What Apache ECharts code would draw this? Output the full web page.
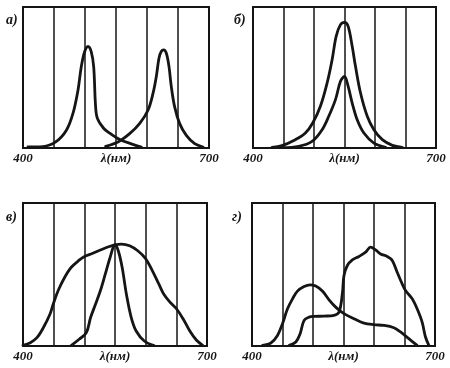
<!DOCTYPE html>
<html><head><meta charset="utf-8">
<script src="https://cdn.jsdelivr.net/npm/echarts@6/dist/echarts.min.js"></script>
<style>html,body{margin:0;padding:0;background:#fff}#c{width:450px;height:368px}</style>
</head><body><div id="c"></div>
<script>
// x tick labels
const tickLabels = {400: '400', 550: 'λ(нм)', 700: '700'};
const panelLabels = ['а)', 'б)', 'в)', 'г)'];

// panel а) two separate narrow peaks
const a1 = [[408,0.007],[432,0.01],[452.7,0.043],[470,0.126],[480.6,0.245],[488.7,0.41],[494,0.577],[499.5,0.684],[504.8,0.72],[510,0.684],[514,0.577],[517,0.3],[520,0.21],[530,0.14],[540,0.105],[556,0.06],[577,0.026],[591,0.007]];
const a2 = [[533.3,0.012],[553.2,0.043],[572,0.102],[588,0.173],[601.6,0.268],[609.7,0.387],[615,0.506],[619.3,0.637],[623,0.684],[626.9,0.696],[631.2,0.672],[635.5,0.577],[639.2,0.435],[644.6,0.292],[652.7,0.173],[663.4,0.09],[676.9,0.031],[690.3,0.007]];

// panel б) two peaks at the same wavelength
const b1 = [[431,0.005],[447.5,0.017],[469.4,0.059],[485.9,0.106],[497.9,0.177],[510.5,0.296],[521.5,0.461],[529.7,0.626],[536.3,0.792],[543.4,0.875],[550,0.891],[556,0.863],[562.6,0.721],[568,0.579],[576.3,0.39],[587.3,0.225],[598.2,0.13],[612,0.059],[628.4,0.019],[644.8,0.005]];
const b2 = [[447.5,0.003],[474.9,0.012],[496.8,0.047],[513.3,0.13],[524.2,0.225],[535.2,0.343],[543.4,0.473],[550,0.508],[556,0.437],[562.6,0.319],[570.8,0.2],[581.8,0.106],[598.2,0.035],[617.4,0.005]];

// panel в) broad and narrow curves
const c1 = [[400,0.005],[412,0.023],[422.7,0.058],[433.3,0.129],[443.9,0.222],[449.2,0.292],[457.2,0.386],[467.8,0.479],[478.4,0.549],[491.6,0.6],[499.6,0.624],[512.9,0.647],[526.1,0.671],[539.4,0.694],[550,0.708],[560.6,0.713],[573.9,0.701],[587.1,0.666],[599.3,0.614],[611,0.526],[621.6,0.432],[629.6,0.362],[640.2,0.304],[650.8,0.257],[661.4,0.187],[672,0.105],[682.6,0.042],[693,0.005]];
const c2 = [[478.4,0.003],[491.6,0.047],[503.3,0.093],[510.2,0.199],[518.2,0.292],[526.1,0.386],[534.1,0.502],[542,0.619],[550,0.708],[555.3,0.666],[561.7,0.549],[568.6,0.362],[576.5,0.199],[584.5,0.105],[597.8,0.035],[613.7,0.003]];

// panel г) two irregular curves
const d1 = [[417.3,0.005],[430.9,0.021],[441.8,0.074],[450,0.156],[458.2,0.26],[466.4,0.33],[474.5,0.384],[485.4,0.416],[495.2,0.428],[504.5,0.419],[515.4,0.384],[526.3,0.323],[537.2,0.272],[550.8,0.226],[567.2,0.191],[583.5,0.16],[599.9,0.149],[616.2,0.144],[632.6,0.128],[643.5,0.098],[657.1,0.051],[670.7,0.005]];
const d2 = [[460.9,0.005],[471.8,0.028],[478.9,0.086],[485.4,0.179],[493.6,0.202],[501.8,0.207],[518.1,0.209],[534.5,0.214],[542.7,0.237],[548.1,0.365],[550.8,0.493],[556.3,0.563],[564.5,0.602],[575.4,0.626],[586.3,0.656],[594.4,0.691],[602.6,0.672],[610.8,0.644],[621.7,0.626],[629.9,0.598],[638,0.516],[646.2,0.435],[651.7,0.388],[662.6,0.33],[670.7,0.26],[678.9,0.167],[684.4,0.063],[689.9,0.005]];

const panelSeries = [[a1, a2], [b1, b2], [c1, c2], [d1, d2]];
const grids = [
  {left: 23, right: 241, top: 7, bottom: 220},
  {left: 253, right: 14, top: 7, bottom: 220},
  {left: 23, right: 243, top: 203, bottom: 22},
  {left: 252, right: 15, top: 203, bottom: 22}
];
const labelPos = [[6, 13], [234, 13], [6, 210], [232, 210]];
const INK = '#151515';
const FONT = '"Liberation Serif", "DejaVu Serif", serif';

const option = {
  animation: false,
  backgroundColor: '#fff',
  grid: grids.map(g => Object.assign({show: true, borderColor: INK, borderWidth: 2, backgroundColor: 'transparent', containLabel: false}, g)),
  xAxis: grids.map((g, i) => ({
    type: 'value', gridIndex: i, min: 400, max: 700, interval: 50,
    axisLine: {show: false}, axisTick: {show: false},
    splitLine: {show: true, lineStyle: {color: INK, width: 1.5}},
    axisLabel: {
      show: true, margin: 4, showMinLabel: true, showMaxLabel: true,
      fontFamily: FONT, fontStyle: 'italic', fontWeight: 'bold', fontSize: 13, color: INK,
      formatter: v => tickLabels[v] || ''
    }
  })),
  yAxis: grids.map((g, i) => ({
    type: 'value', gridIndex: i, min: 0, max: 1, show: false, splitLine: {show: false}
  })),
  series: panelSeries.flatMap((arr, i) => arr.map(d => ({
    type: 'line', xAxisIndex: i, yAxisIndex: i, data: d, smooth: 0.35,
    showSymbol: false, symbol: 'none', clip: false,
    lineStyle: {color: INK, width: 2.8, cap: 'round', join: 'round'}
  }))),
  graphic: panelLabels.map((t, i) => ({
    type: 'text', left: labelPos[i][0], top: labelPos[i][1],
    style: {text: t, font: 'italic bold 14px ' + FONT, fill: INK}
  }))
};
echarts.init(document.getElementById('c'), null, {renderer: 'canvas'}).setOption(option);
</script></body></html>
